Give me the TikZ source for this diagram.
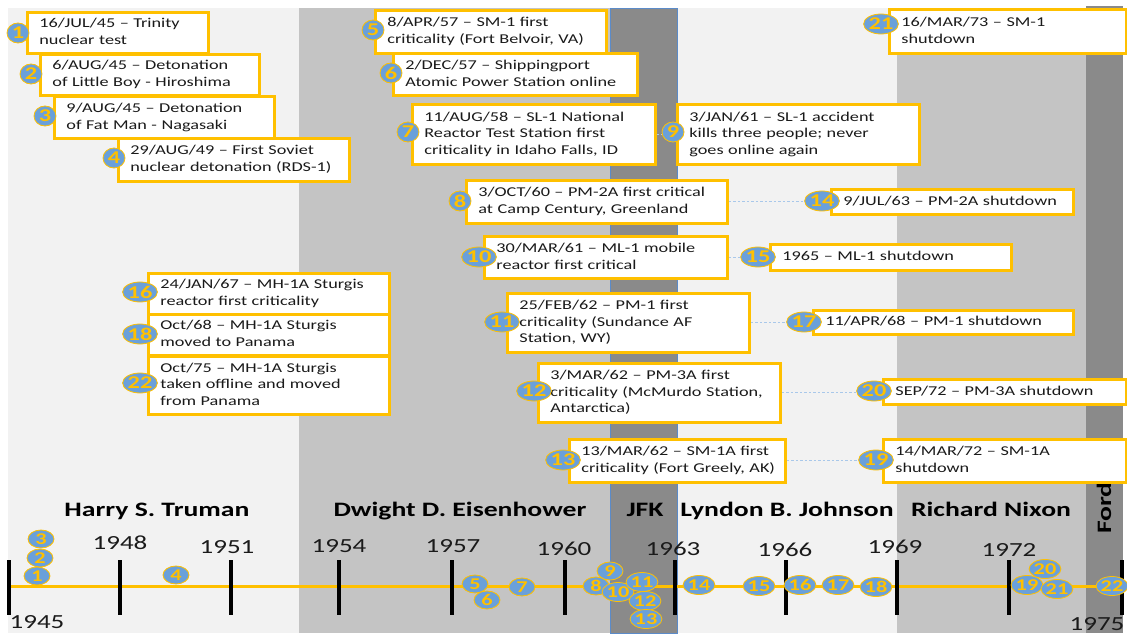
\documentclass[tikz,border=0pt]{standalone}
\usepackage{fontspec}
\setmainfont{Carlito}[FakeStretch=1.35]
\usetikzlibrary{shapes.geometric}

\definecolor{gold}{HTML}{FFC000}
\definecolor{badgeblue}{HTML}{6AA0DA}
\definecolor{bandlight}{HTML}{F2F2F2}
\definecolor{bandmid}{HTML}{C4C4C4}
\definecolor{banddark}{HTML}{8A8A8A}
\definecolor{jfkedge}{HTML}{5B8BC9}
\definecolor{linkblue}{HTML}{A9C8EA}
\definecolor{ink}{HTML}{1A1A1A}

\newcommand{\evtext}[1]{\begin{tabular}{@{}l@{}}#1\end{tabular}}

\begin{document}
\begin{tikzpicture}[x=1pt,y=-1pt,
  evbox/.style={draw=gold, fill=white, line width=2.8pt, anchor=north west,
    inner xsep=12pt, inner ysep=2pt, text=ink,
    font=\fontsize{13.5}{16.7}\selectfont},
  badge/.style={ellipse, fill=badgeblue, draw=gold, line width=0.8pt,
    minimum width=22pt, minimum height=20pt, inner sep=0pt, text=gold,
    font=\fontsize{18}{20}\selectfont\bfseries},
  wide/.style={minimum width=29pt},
  marker/.style={ellipse, fill=badgeblue, draw=gold, line width=0.8pt,
    minimum width=26pt, minimum height=18pt, inner sep=0pt, text=gold,
    font=\fontsize{16.5}{18}\selectfont\bfseries},
  mwide/.style={minimum width=29pt, minimum height=19pt},
  link/.style={draw=linkblue, line width=0.9pt, dash pattern=on 2.5pt off 2pt},
  axis/.style={draw=gold, line width=3pt},
  tick/.style={draw=black, line width=4pt},
  year/.style={text=ink, inner sep=0pt, font=\fontsize{20}{24}\selectfont},
  president/.style={anchor=base, text=black, inner sep=0pt,
    font=\fontsize{20.5}{24}\selectfont\bfseries}
]
\useasboundingbox (0,0) rectangle (1127,636);
\fill[white] (0,0) rectangle (1127,636);

% presidential terms as background bands
\fill[bandlight] (8,8) rectangle (299,633);
\fill[bandmid] (299,8) rectangle (610,633);
\fill[bandlight] (677,8) rectangle (897,633);
\fill[bandmid] (897,8) rectangle (1086,633);
\fill[banddark] (1086,6) rectangle (1123,633);
\filldraw[fill=banddark, draw=jfkedge, line width=0.8pt] (610,8) rectangle (677,633);

% president names
\node[president] (ptruman) at (157,516) {Harry S. Truman};
\node[president] (peisenhower) at (460,516) {Dwight D. Eisenhower};
\node[president] (pjfk) at (645,516) {JFK};
\node[president] (pjohnson) at (787,516) {Lyndon B. Johnson};
\node[president] (pnixon) at (991,516) {Richard Nixon};
\node[president, anchor=center, rotate=90] (pford) at (1104,508) {Ford};

% time axis with ticks every three years
\coordinate (tstart) at (9,586);
\coordinate (tend) at (1123,586);
\draw[axis] (tstart) -- (tend);
\foreach \x in {9,120,231,339,452,565,675,786,897,1009,1122}
  \draw[tick] (\x,560) -- (\x,615);

\node[year] (y1945) at (37,622) {1945};
\node[year] (y1948) at (120,543) {1948};
\node[year] (y1951) at (227,547) {1951};
\node[year] (y1954) at (339,546) {1954};
\node[year] (y1957) at (453,546) {1957};
\node[year] (y1960) at (564,549) {1960};
\node[year] (y1963) at (673,549) {1963};
\node[year] (y1966) at (785,550) {1966};
\node[year] (y1969) at (895,547) {1969};
\node[year] (y1972) at (1009,550) {1972};
\node[year] (y1975) at (1097,624) {1975};

% event markers on the axis
\node[marker] (m3) at (41,539) {3};
\node[marker] (m2) at (40,558) {2};
\node[marker] (m1) at (37,576) {1};
\node[marker] (m4) at (176,575) {4};
\node[marker] (m5) at (475,584) {5};
\node[marker] (m6) at (487,600) {6};
\node[marker] (m7) at (522,587) {7};
\node[marker] (m8) at (596,586) {8};
\node[marker] (m9) at (610,571) {9};
\node[marker, mwide] (m10) at (618,592) {10};
\node[marker, mwide] (m11) at (642,582) {11};
\node[marker, mwide] (m12) at (645,601) {12};
\node[marker, mwide] (m13) at (646,619) {13};
\node[marker, mwide] (m14) at (699,585) {14};
\node[marker, mwide] (m15) at (759,586) {15};
\node[marker, mwide] (m16) at (800,585) {16};
\node[marker, mwide] (m17) at (838,585) {17};
\node[marker, mwide] (m18) at (876,587) {18};
\node[marker, mwide] (m19) at (1027,585) {19};
\node[marker, mwide] (m20) at (1045,569) {20};
\node[marker, mwide] (m21) at (1057,589) {21};
\node[marker, mwide] (m22) at (1112,586) {22};

% event boxes
\node[evbox, minimum width=181pt, minimum height=41pt, text width=157pt] (e1) at (26,11)
  {\evtext{16/JUL/45 – Trinity\\nuclear test}};
\node[evbox, minimum width=219pt, minimum height=41pt, text width=195pt] (e2) at (39,53)
  {\evtext{6/AUG/45 – Detonation\\of Little Boy - Hiroshima}};
\node[evbox, minimum width=220pt, minimum height=42pt, text width=196pt] (e3) at (53,95)
  {\evtext{9/AUG/45 – Detonation\\of Fat Man - Nagasaki}};
\node[evbox, minimum width=231pt, minimum height=43pt, text width=207pt] (e4) at (117,137)
  {\evtext{29/AUG/49 – First Soviet\\nuclear detonation (RDS-1)}};
\node[evbox, minimum width=231pt, minimum height=43pt, text width=207pt] (e5) at (374,9)
  {\evtext{8/APR/57 – SM-1 first\\criticality (Fort Belvoir, VA)}};
\node[evbox, minimum width=244pt, minimum height=42pt, text width=220pt] (e6) at (392,52)
  {\evtext{2/DEC/57 – Shippingport\\Atomic Power Station online}};
\node[evbox, minimum width=243pt, minimum height=60pt, text width=219pt] (e7) at (411,103)
  {\evtext{11/AUG/58 – SL-1 National\\Reactor Test Station first\\criticality in Idaho Falls, ID}};
\node[evbox, minimum width=242pt, minimum height=60pt, text width=218pt] (e9) at (676,103)
  {\evtext{3/JAN/61 – SL-1 accident\\kills three people; never\\goes online again}};
\node[evbox, minimum width=237pt, minimum height=44pt, text width=213pt] (e21) at (888,8)
  {\evtext{16/MAR/73 – SM-1\\shutdown}};
\node[evbox, minimum width=261pt, minimum height=43pt, text width=237pt] (e8) at (465,179)
  {\evtext{3/OCT/60 – PM-2A first critical\\at Camp Century, Greenland}};
\node[evbox, minimum width=242pt, minimum height=25pt, text width=218pt] (e14) at (830,188)
  {\evtext{9/JUL/63 – PM-2A shutdown}};
\node[evbox, minimum width=243pt, minimum height=42pt, text width=219pt] (e10) at (483,235)
  {\evtext{30/MAR/61 – ML-1 mobile\\reactor first critical}};
\node[evbox, minimum width=241pt, minimum height=26pt, text width=217pt] (e15) at (769,243)
  {\evtext{1965 – ML-1 shutdown}};
\node[evbox, minimum width=242pt, minimum height=59pt, text width=218pt] (e11) at (506,292)
  {\evtext{25/FEB/62 – PM-1 first\\criticality (Sundance AF\\Station, WY)}};
\node[evbox, minimum width=260pt, minimum height=24pt, text width=236pt] (e17) at (812,309)
  {\evtext{11/APR/68 – PM-1 shutdown}};
\node[evbox, minimum width=242pt, minimum height=59pt, text width=218pt] (e12) at (537,362)
  {\evtext{3/MAR/62 – PM-3A first\\criticality (McMurdo Station,\\Antarctica)}};
\node[evbox, minimum width=243pt, minimum height=25pt, text width=219pt] (e20) at (882,378)
  {\evtext{SEP/72 – PM-3A shutdown}};
\node[evbox, minimum width=216pt, minimum height=43pt, text width=192pt] (e13) at (568,438)
  {\evtext{13/MAR/62 – SM-1A first\\criticality (Fort Greely, AK)}};
\node[evbox, minimum width=243pt, minimum height=43pt, text width=219pt] (e19) at (882,438)
  {\evtext{14/MAR/72 – SM-1A\\shutdown}};
\node[evbox, minimum width=241pt, minimum height=41pt, text width=217pt] (e16) at (147,272)
  {\evtext{24/JAN/67 – MH-1A Sturgis\\reactor first criticality}};
\node[evbox, minimum width=241pt, minimum height=41pt, text width=217pt] (e18) at (147,313)
  {\evtext{Oct/68 – MH-1A Sturgis\\moved to Panama}};
\node[evbox, minimum width=241pt, minimum height=58pt, text width=217pt] (e22) at (147,355)
  {\evtext{Oct/75 – MH-1A Sturgis\\taken offline and moved\\from Panama}};

% number badges on the boxes
\node[badge] (b1) at (18,33) {1};
\node[badge] (b2) at (31,74) {2};
\node[badge] (b3) at (45,116) {3};
\node[badge] (b4) at (114,158) {4};
\node[badge] (b5) at (373,30) {5};
\node[badge] (b6) at (391,73) {6};
\node[badge] (b7) at (408,132) {7};
\node[badge] (b9) at (673,132) {9};
\node[badge, wide] (b21) at (881,24) {21};
\node[badge] (b8) at (460,201) {8};
\node[badge, wide] (b14) at (822,201) {14};
\node[badge, wide] (b10) at (479,257) {10};
\node[badge, wide] (b15) at (758,257) {15};
\node[badge, wide] (b11) at (502,322) {11};
\node[badge, wide] (b17) at (804,322) {17};
\node[badge, wide] (b12) at (534,391) {12};
\node[badge, wide] (b20) at (874,391) {20};
\node[badge, wide] (b13) at (563,460) {13};
\node[badge, wide] (b19) at (876,460) {19};
\node[badge, wide] (b16) at (140,292) {16};
\node[badge, wide] (b18) at (140,334) {18};
\node[badge, wide] (b22) at (140,383) {22};

% dotted links from a reactor's start to its end
\draw[link] (e7.east) -- (e7.east -| b9.west);
\draw[link] (e8.east) -- (e8.east -| b14.west);
\draw[link] (e10.east) -- (e10.east -| b15.west);
\draw[link] (e11.east) -- (e11.east -| b17.west);
\draw[link] (e12.east) -- (e12.east -| b20.west);
\draw[link] (e13.east) -- (e13.east -| b19.west);
\end{tikzpicture}
\end{document}
